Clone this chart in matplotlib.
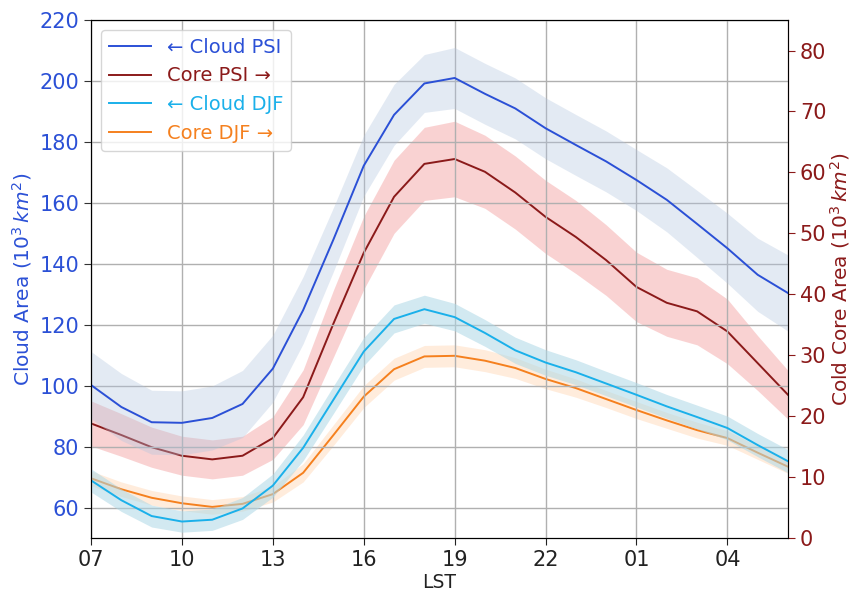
import numpy as np
import matplotlib
matplotlib.use("Agg")
import matplotlib.pyplot as plt

# hourly means starting at 07 LST, running through 06 LST
hours = ["07", "08", "09", "10", "11", "12", "13", "14", "15", "16", "17", "18",
         "19", "20", "21", "22", "23", "00", "01", "02", "03", "04", "05", "06"]

cloud_psi = [100.2, 93.0, 88.0, 87.8, 89.4, 94.0, 105.6, 124.8, 148.0, 172.2, 188.9, 199.2,
             201.0, 195.8, 191.0, 184.5, 179.0, 173.6, 167.5, 161.0, 153.1, 145.1, 136.4, 130.4]
cloud_psi_err = [11.0, 11.0, 10.5, 10.5, 10.5, 11.0, 11.0, 11.0, 10.5, 10.0, 10.0, 9.5,
                 10.0, 10.0, 10.0, 10.0, 10.0, 10.0, 10.0, 10.5, 11.0, 11.5, 12.0, 12.5]

core_psi = [18.8, 16.9, 14.9, 13.5, 12.9, 13.5, 16.4, 23.1, 35.2, 46.8, 56.0, 61.4,
            62.2, 60.1, 56.7, 52.7, 49.4, 45.6, 41.2, 38.6, 37.2, 33.9, 28.7, 23.5]
core_psi_err = [3.7, 3.5, 3.3, 3.2, 3.2, 3.2, 3.5, 4.5, 5.5, 6.0, 6.0, 6.0,
                6.2, 6.0, 6.0, 6.0, 6.0, 5.8, 5.7, 5.5, 5.5, 5.3, 4.5, 4.0]

cloud_djf = [68.9, 62.4, 57.2, 55.4, 56.0, 59.7, 67.2, 79.6, 95.4, 111.2, 121.9, 125.1,
             122.5, 117.3, 111.6, 107.6, 104.4, 100.7, 97.0, 93.2, 89.7, 86.1, 80.5, 75.2]
cloud_djf_err = [3.8, 3.7, 3.6, 3.5, 3.5, 3.6, 3.8, 4.2, 4.5, 4.6, 4.6, 4.6,
                 4.5, 4.4, 4.3, 4.2, 4.1, 4.0, 4.0, 3.9, 3.9, 3.9, 3.8, 3.8]

core_djf = [9.8, 8.0, 6.6, 5.7, 5.1, 5.6, 7.2, 10.7, 16.9, 23.2, 27.7, 29.8,
            29.9, 29.1, 27.9, 26.1, 24.6, 22.8, 21.0, 19.3, 17.7, 16.4, 14.0, 11.7]
core_djf_err = [1.2, 1.2, 1.2, 1.2, 1.2, 1.2, 1.3, 1.5, 1.7, 1.8, 1.8, 1.8,
                1.8, 1.8, 1.7, 1.6, 1.5, 1.4, 1.4, 1.3, 1.3, 1.2, 1.1, 1.1]

tick_hours = ["07", "10", "13", "16", "19", "22", "01", "04"]

C_CLOUD_PSI = "#2b50d6"
C_CORE_PSI = "#8b1a1a"
C_CLOUD_DJF = "#1ab0ea"
C_CORE_DJF = "#f5801e"

x = np.arange(len(hours))


def band(ax, y, err, line_color, fill_color, alpha, label):
    y = np.asarray(y)
    err = np.asarray(err)
    ax.fill_between(x, y - err, y + err, color=fill_color, alpha=alpha, lw=0)
    return ax.plot(x, y, color=line_color, lw=1.4, label=label)[0]


fig = plt.figure(figsize=(8.54, 5.91), dpi=100)
ax1 = fig.add_axes([0.1066, 0.0897, 0.8161, 0.8763])
ax2 = ax1.twinx()

l1 = band(ax1, cloud_psi, cloud_psi_err, C_CLOUD_PSI, "lightsteelblue", 0.35, "\u2190 Cloud PSI")
l2 = band(ax2, core_psi, core_psi_err, C_CORE_PSI, "lightcoral", 0.35, "Core PSI \u2192")
l3 = band(ax1, cloud_djf, cloud_djf_err, C_CLOUD_DJF, "lightblue", 0.55, "\u2190 Cloud DJF")
l4 = band(ax2, core_djf, core_djf_err, C_CORE_DJF, "#ff9a40", 0.18, "Core DJF \u2192")

ax1.set_xlim(0, len(hours) - 1)
ax1.set_ylim(50, 220)
ax2.set_ylim(0, 85)
ax1.set_yticks(range(60, 221, 20))
ax2.set_yticks(range(0, 81, 10))
ax1.set_xticks([hours.index(h) for h in tick_hours])
ax1.set_xticklabels(tick_hours)

ax1.grid(True, color="#b0b0b0", lw=1.0)
ax1.set_axisbelow(True)

ax1.tick_params(axis="x", labelsize=15, colors="#222222", length=5)
ax1.tick_params(axis="y", labelsize=15, labelcolor=C_CLOUD_PSI, color="#333333", length=5)
ax2.tick_params(axis="y", labelsize=15, labelcolor=C_CORE_PSI, color=C_CORE_PSI, length=5)
ax2.spines["right"].set_color(C_CORE_PSI)

ax1.set_xlabel("LST", fontsize=13.5, color="#222222", labelpad=2)
ax1.set_ylabel("Cloud Area ($10^3\\,km^2$)", fontsize=14.5, color=C_CLOUD_PSI)
ax2.set_ylabel("Cold Core Area ($10^3\\,km^2$)", fontsize=14.5, color=C_CORE_PSI, labelpad=1)

leg = ax1.legend(handles=[l1, l2, l3, l4], loc="upper left", fontsize=14,
                 handlelength=2.2, handletextpad=0.8, framealpha=0.8)
for txt, ln in zip(leg.get_texts(), [l1, l2, l3, l4]):
    txt.set_color(ln.get_color())
ax1.set_zorder(ax2.get_zorder() + 1)
ax1.patch.set_visible(False)

fig.savefig("out.png", dpi=100)
